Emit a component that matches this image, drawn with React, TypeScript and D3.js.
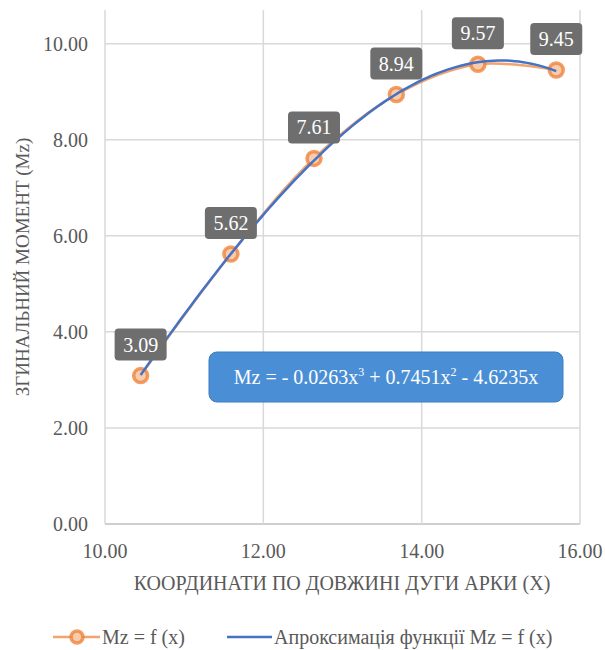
import React from "react";
import * as d3 from "d3";

const xValues = [10.45, 11.59, 12.64, 13.68, 14.71, 15.7];
const mzValues = [3.09, 5.62, 7.61, 8.94, 9.57, 9.45];
const xTicks = [10, 12, 14, 16];
const yTicks = [0, 2, 4, 6, 8, 10];
const yTitle = "ЗГИНАЛЬНИЙ МОМЕНТ (Mz)";
const xTitle = "КООРДИНАТИ ПО ДОВЖИНІ ДУГИ АРКИ (X)";
const seriesNames = ["Mz = f (x)", "Апроксимація функції Mz = f (x)"];
const equationParts = ["Mz = - 0.0263x", "3", " + 0.7451x", "2", " - 4.6235x"];

const W = 605;
const H = 650;
const margin = { left: 105, right: 25, top: 10, bottom: 126 };
const FONT = "Liberation Serif";
const TEXT = "#595959";
const ORANGE = "#ED7D31";
const BLUE = "#4472C4";

// least-squares cubic through the origin: y = a x^3 + b x^2 + c x
function fitCubic(xs: number[], ys: number[]): number[] {
  const basis = (t: number) => [t * t * t, t * t, t];
  const A = [0, 1, 2].map(() => [0, 0, 0, 0]);
  xs.forEach((t, k) => {
    const b = basis(t);
    for (let i = 0; i < 3; i++) {
      for (let j = 0; j < 3; j++) A[i][j] += b[i] * b[j];
      A[i][3] += b[i] * ys[k];
    }
  });
  for (let i = 0; i < 3; i++) {
    let p = i;
    for (let r = i + 1; r < 3; r++) if (Math.abs(A[r][i]) > Math.abs(A[p][i])) p = r;
    [A[i], A[p]] = [A[p], A[i]];
    for (let r = 0; r < 3; r++) {
      if (r === i) continue;
      const f = A[r][i] / A[i][i];
      for (let c = i; c < 4; c++) A[r][c] -= f * A[i][c];
    }
  }
  return [0, 1, 2].map((i) => A[i][3] / A[i][i]);
}

export default function App() {
  const x = d3.scaleLinear().domain([10, 16]).range([margin.left, W - margin.right]);
  const y = d3.scaleLinear().domain([0, 10.7]).range([H - margin.bottom, margin.top]);
  const plotTop = margin.top;
  const plotBottom = H - margin.bottom;

  const pts = xValues.map((v, i) => [v, mzValues[i]] as [number, number]);
  const dataLine = d3
    .line<[number, number]>()
    .x((d) => x(d[0]))
    .y((d) => y(d[1]))
    .curve(d3.curveCatmullRom.alpha(0.5));

  const coef = fitCubic(xValues, mzValues);
  const poly = (t: number) => coef[0] * t * t * t + coef[1] * t * t + coef[2] * t;
  const x0 = xValues[0];
  const x1 = xValues[xValues.length - 1];
  const trendPts: [number, number][] = d3.range(0, 101).map((k) => {
    const t = x0 + ((x1 - x0) * k) / 100;
    return [t, poly(t)];
  });
  const trendLine = d3
    .line<[number, number]>()
    .x((d) => x(d[0]))
    .y((d) => y(d[1]));

  const fmt = d3.format(".2f");

  return (
    <div style={{ position: "absolute", left: 0, top: 0 }}>
      <svg width={W} height={H} style={{ display: "block", background: "#fff" }}>
        {yTicks.map((t) => (
          <line key={"gy" + t} x1={x(10)} x2={x(16)} y1={y(t)} y2={y(t)} stroke={t === 0 ? "#BFBFBF" : "#D9D9D9"} strokeWidth={1.5} />
        ))}
        {xTicks.map((t) => (
          <line key={"gx" + t} x1={x(t)} x2={x(t)} y1={plotTop} y2={plotBottom} stroke="#D9D9D9" strokeWidth={1.5} />
        ))}
        {yTicks.map((t) => (
          <text key={"ty" + t} x={x(10) - 17} y={y(t)} dy="0.35em" textAnchor="end" fontFamily={FONT} fontSize={20} fill={TEXT}>
            {fmt(t)}
          </text>
        ))}
        {xTicks.map((t) => (
          <text key={"tx" + t} x={x(t)} y={plotBottom + 27} dy="0.35em" textAnchor="middle" fontFamily={FONT} fontSize={20} fill={TEXT}>
            {fmt(t)}
          </text>
        ))}
        <text
          transform={`translate(22, ${(plotTop + plotBottom) / 2}) rotate(-90)`}
          dy="0.35em"
          textAnchor="middle"
          fontFamily={FONT}
          fontSize={19}
          fill={TEXT}
        >
          {yTitle}
        </text>
        <text x={342} y={583} dy="0.35em" textAnchor="middle" fontFamily={FONT} fontSize={20} fill={TEXT}>
          {xTitle}
        </text>

        <path d={dataLine(pts) ?? ""} fill="none" stroke={ORANGE} strokeOpacity={0.7} strokeWidth={2.5} />
        {pts.map((p, i) => (
          <circle key={"m" + i} cx={x(p[0])} cy={y(p[1])} r={7} fill="#F8CBAD" stroke={ORANGE} strokeOpacity={0.75} strokeWidth={3.5} />
        ))}
        <path d={trendLine(trendPts) ?? ""} fill="none" stroke={BLUE} strokeWidth={2.5} />

        {pts.map((p, i) => {
          const cx = x(p[0]);
          const cy = y(p[1]) - 31;
          return (
            <g key={"l" + i}>
              <rect x={cx - 26} y={cy - 16} width={52} height={32} rx={4} fill="#6E6E6E" />
              <text x={cx} y={cy} dy="0.35em" textAnchor="middle" fontFamily={FONT} fontSize={20} fill="#fff">
                {fmt(p[1])}
              </text>
            </g>
          );
        })}

        <rect x={209} y={352} width={354} height={50} rx={8} fill="#4A8FD6" stroke="#3B7CC2" strokeWidth={1} />
        <text x={386} y={377} dy="0.35em" textAnchor="middle" fontFamily={FONT} fontSize={20} fill="#fff">
          <tspan>{equationParts[0]}</tspan>
          <tspan dy="-8" fontSize={12}>{equationParts[1]}</tspan>
          <tspan dy="8">{equationParts[2]}</tspan>
          <tspan dy="-8" fontSize={12}>{equationParts[3]}</tspan>
          <tspan dy="8">{equationParts[4]}</tspan>
        </text>

        <g>
          <line x1={53} x2={100} y1={637} y2={637} stroke={ORANGE} strokeOpacity={0.7} strokeWidth={2.5} />
          <circle cx={77} cy={637} r={6} fill="#F8CBAD" stroke={ORANGE} strokeOpacity={0.75} strokeWidth={3.5} />
          <text x={102} y={637} dy="0.35em" fontFamily={FONT} fontSize={20} fill={TEXT}>
            {seriesNames[0]}
          </text>
          <line x1={227} x2={272} y1={637} y2={637} stroke={BLUE} strokeWidth={2.5} />
          <text x={274} y={637} dy="0.35em" fontFamily={FONT} fontSize={20} fill={TEXT}>
            {seriesNames[1]}
          </text>
        </g>
      </svg>
    </div>
  );
}
